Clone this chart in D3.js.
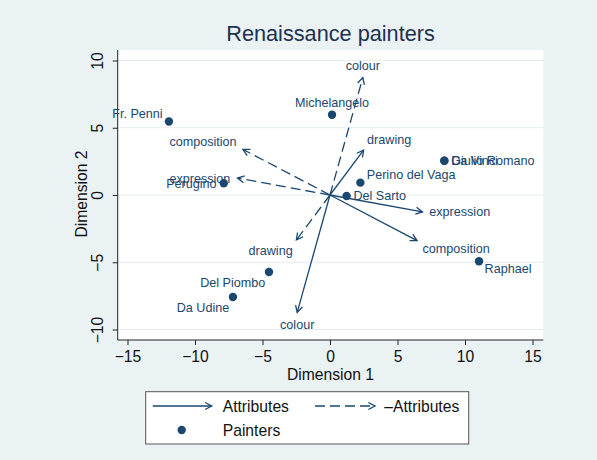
<!DOCTYPE html>
<html>
<head>
<meta charset="utf-8">
<script src="https://cdn.jsdelivr.net/npm/d3@7"></script>
<style>
  body { margin: 0; background: #eaf2f3; }
  svg { display: block; font-family: "Liberation Sans", Arial, Helvetica, sans-serif; }
</style>
</head>
<body>
<svg id="chart" width="597" height="460"></svg>
<script>
// ---------- data ----------
const painters = ["Del Sarto", "Del Piombo", "Da Udine", "Giulio Romano", "Da Vinci",
                  "Michelangelo", "Fr. Penni", "Perino del Vaga", "Perugino", "Raphael"];
const painterDim1 = [1.23, -4.52, -7.19, 8.47, 8.47, 0.15, -11.93, 2.25, -7.87, 11.04];
const painterDim2 = [-0.07, -5.72, -7.58, 2.55, 2.55, 5.97, 5.47, 0.92, 0.87, -4.93];
const painterLabelClock = [3, 7, 7, 3, 3, 12, 10, 2, 9, 4];

const attributes = ["composition", "drawing", "colour", "expression"];
const attrDim1 = [6.45, 2.49, -2.43, 6.85];
const attrDim2 = [-3.39, 3.34, -8.73, -1.26];
const attrLabelClock = [4, 1, 6, 3];
const negAttrLabelClock = [10, 7, 12, 9];

const xTicks = [-15, -10, -5, 0, 5, 10, 15];
const yTicks = [-10, -5, 0, 5, 10];
const titleText = "Renaissance painters";
const xTitle = "Dimension 1";
const yTitle = "Dimension 2";
const legendLabels = ["Attributes", "\u2013Attributes", "Painters"];

// ---------- layout ----------
const navy = "#1a476f";
const svg = d3.select("#chart");
const plot = { left: 117.7, top: 50, right: 543.3, bottom: 340 };

const x = d3.scaleLinear().domain([-15, 15]).range([127.5, 532.5]);
const y = d3.scaleLinear().domain([-10, 10]).range([329.5, 60.5]);

svg.append("rect").attr("width", 597).attr("height", 460).attr("fill", "#eaf2f3");
svg.append("rect")
  .attr("x", plot.left).attr("y", plot.top)
  .attr("width", plot.right - plot.left).attr("height", plot.bottom - plot.top)
  .attr("fill", "#ffffff");

// gridlines
svg.append("g").selectAll("line").data(yTicks).join("line")
  .attr("x1", plot.left).attr("x2", plot.right)
  .attr("y1", d => y(d)).attr("y2", d => y(d))
  .attr("stroke", "#e3edf0").attr("stroke-width", 1.2);

// axes
const xAxis = svg.append("g")
  .attr("transform", `translate(0,${plot.bottom})`)
  .call(d3.axisBottom(x).tickValues(xTicks).tickSize(5).tickSizeOuter(0));
xAxis.select(".domain").attr("d", `M${plot.left},0H${plot.right}`).attr("stroke", "#222");
xAxis.selectAll(".tick line").attr("stroke", "#222");
xAxis.selectAll(".tick text")
  .attr("y", 21.7).attr("dy", 0)
  .attr("font-size", 15.7).attr("font-family", "Liberation Sans, Arial, sans-serif")
  .attr("fill", "#111");

const yAxis = svg.append("g")
  .attr("transform", `translate(${plot.left},0)`)
  .call(d3.axisLeft(y).tickValues(yTicks).tickSize(5).tickSizeOuter(0));
yAxis.select(".domain").attr("d", `M0,${plot.top}V${plot.bottom}`).attr("stroke", "#222");
yAxis.selectAll(".tick line").attr("stroke", "#222");
yAxis.selectAll(".tick text")
  .attr("transform", "rotate(-90)")
  .attr("x", 0).attr("y", -14.5).attr("dy", 0)
  .attr("text-anchor", "middle")
  .attr("font-size", 15.7).attr("font-family", "Liberation Sans, Arial, sans-serif")
  .attr("fill", "#111");

// axis titles
svg.append("text")
  .attr("x", (plot.left + plot.right) / 2).attr("y", 379.5)
  .attr("text-anchor", "middle").attr("font-size", 15.7).attr("fill", "#111")
  .text(xTitle);
svg.append("text")
  .attr("transform", `translate(87,194) rotate(-90)`)
  .attr("text-anchor", "middle").attr("font-size", 15.7).attr("fill", "#111")
  .text(yTitle);

// title
svg.append("text")
  .attr("x", (plot.left + plot.right) / 2).attr("y", 40.7)
  .attr("text-anchor", "middle").attr("font-size", 21.7).attr("fill", "#1e3050")
  .text(titleText);

// ---------- helpers ----------
function clockOffset(c) {
  const table = {
    12: [0, -11.5, "middle"], 1: [3.5, -10.5, "start"], 2: [6.4, -7.7, "start"],
    3: [6.8, 0.5, "start"], 4: [5.5, 8, "start"], 5: [3, 10, "start"],
    6: [0, 12.7, "middle"], 7: [-3.7, 10.6, "end"], 8: [-6, 8, "end"],
    9: [-7.2, 0.6, "end"], 10: [-6.3, -7.5, "end"], 11: [-3, -10, "end"]
  };
  return table[c];
}

function arrowHead(g, x0, y0, x1, y1, len, ang) {
  const a = Math.atan2(y1 - y0, x1 - x0);
  const p1 = [x1 - len * Math.cos(a - ang), y1 - len * Math.sin(a - ang)];
  const p2 = [x1 - len * Math.cos(a + ang), y1 - len * Math.sin(a + ang)];
  g.append("path")
    .attr("d", `M${p1[0]},${p1[1]}L${x1},${y1}L${p2[0]},${p2[1]}`)
    .attr("fill", "none").attr("stroke", navy).attr("stroke-width", 1.3)
    .attr("stroke-linejoin", "miter");
}

const dash = "10,5";
const markG = svg.append("g");

// ---------- arrows ----------
attributes.forEach((name, i) => {
  // solid (attribute)
  const xs = x(0), ys = y(0);
  const xt = x(attrDim1[i]), yt = y(attrDim2[i]);
  markG.append("line").attr("x1", xs).attr("y1", ys).attr("x2", xt).attr("y2", yt)
    .attr("stroke", navy).attr("stroke-width", 1.3);
  arrowHead(markG, xs, ys, xt, yt, 7.5, Math.PI * 28 / 180);
  const o = clockOffset(attrLabelClock[i]);
  markG.append("text").attr("x", xt + o[0]).attr("y", yt + o[1])
    .attr("dominant-baseline", "central").attr("text-anchor", o[2])
    .attr("font-size", 12.6).attr("fill", navy).text(name);

  // dashed (negative attribute)
  const xn = x(-attrDim1[i]), yn = y(-attrDim2[i]);
  markG.append("line").attr("x1", xs).attr("y1", ys).attr("x2", xn).attr("y2", yn)
    .attr("stroke", navy).attr("stroke-width", 1.3).attr("stroke-dasharray", dash);
  arrowHead(markG, xs, ys, xn, yn, 7.5, Math.PI * 28 / 180);
  const on = clockOffset(negAttrLabelClock[i]);
  markG.append("text").attr("x", xn + on[0]).attr("y", yn + on[1])
    .attr("dominant-baseline", "central").attr("text-anchor", on[2])
    .attr("font-size", 12.6).attr("fill", navy).text(name);
});

// ---------- painters ----------
painters.forEach((name, i) => {
  const px = x(painterDim1[i]), py = y(painterDim2[i]);
  markG.append("circle").attr("cx", px).attr("cy", py).attr("r", 4.2).attr("fill", navy);
  const o = clockOffset(painterLabelClock[i]);
  markG.append("text").attr("x", px + o[0]).attr("y", py + o[1])
    .attr("dominant-baseline", "central").attr("text-anchor", o[2])
    .attr("font-size", 12.6).attr("fill", navy).text(name);
});

// ---------- legend ----------
const lg = svg.append("g");
lg.append("rect").attr("x", 145.7).attr("y", 391.7).attr("width", 323).attr("height", 52.3)
  .attr("fill", "#fff").attr("stroke", "#555").attr("stroke-width", 1);
// solid
lg.append("line").attr("x1", 152.7).attr("y1", 406).attr("x2", 211.7).attr("y2", 406)
  .attr("stroke", navy).attr("stroke-width", 1.3);
arrowHead(lg, 152.7, 406, 211.7, 406, 7.5, Math.PI * 28 / 180);
lg.append("text").attr("x", 222.7).attr("y", 406).attr("dominant-baseline", "central")
  .attr("font-size", 15.7).attr("fill", "#111").text(legendLabels[0]);
// dashed
lg.append("line").attr("x1", 315).attr("y1", 406).attr("x2", 375).attr("y2", 406)
  .attr("stroke", navy).attr("stroke-width", 1.3).attr("stroke-dasharray", dash);
arrowHead(lg, 315, 406, 375, 406, 7.5, Math.PI * 28 / 180);
lg.append("text").attr("x", 384.3).attr("y", 406).attr("dominant-baseline", "central")
  .attr("font-size", 15.7).attr("fill", "#111").text(legendLabels[1]);
// painters
lg.append("circle").attr("cx", 181.7).attr("cy", 430).attr("r", 4.2).attr("fill", navy);
lg.append("text").attr("x", 222.7).attr("y", 430).attr("dominant-baseline", "central")
  .attr("font-size", 15.7).attr("fill", "#111").text(legendLabels[2]);
</script>
</body>
</html>
